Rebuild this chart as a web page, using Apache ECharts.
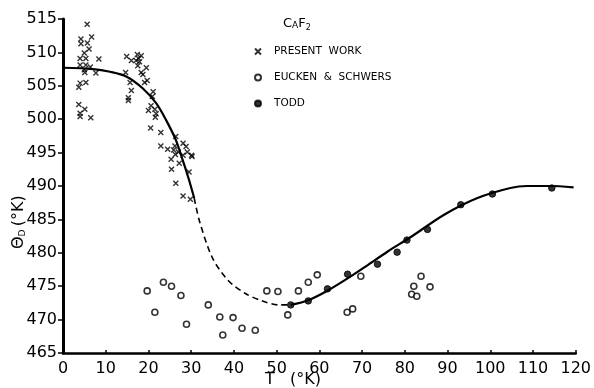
<!DOCTYPE html>
<html>
<head>
<meta charset="utf-8">
<script src="https://cdn.jsdelivr.net/npm/echarts@6/dist/echarts.min.js"></script>
<style>html,body{margin:0;padding:0;background:#fff}#c{width:594px;height:388px}</style>
</head>
<body>
<div id="c"></div>
<script>
// Tick values
const xTicks = [0,10,20,30,40,50,60,70,80,90,100,110,120];
const yTicks = [465,470,475,480,485,490,495,500,505,510,515];

// Present work (crosses) [T, Theta]
const presentWork = [
  [5.65,514.2],[4.2,512.0],[6.7,512.3],[4.2,511.3],[5.7,511.4],[6.1,510.5],[5.0,509.9],[4.0,509.1],
  [5.35,509.1],[8.4,509.0],[4.0,508.1],[5.35,508.1],[6.4,507.8],[5.0,507.4],[5.1,507.0],[7.7,506.9],
  [4.0,505.4],[5.35,505.5],[3.7,504.8],[3.7,502.2],[5.1,501.5],[4.0,500.9],[4.0,500.4],[6.5,500.2],
  [14.9,509.4],[16.0,508.8],[17.4,509.7],[18.3,509.5],[17.7,509.1],[17.1,508.8],[17.9,508.6],[17.5,508.0],
  [19.5,507.7],[18.3,507.0],[18.7,506.7],[14.65,507.0],[15.7,505.5],[19.7,505.8],[19.1,505.5],[16.0,504.3],
  [15.3,503.2],[15.3,502.8],[21.1,504.1],[20.9,503.4],[20.6,502.0],[20.0,501.3],[21.5,501.5],[21.8,500.8],
  [21.6,500.3],[20.5,498.7],
  [22.9,498.0],[22.9,496.0],[24.5,495.5],[25.3,494.0],[25.4,492.5],[26.4,497.4],[26.2,496.0],[25.9,495.4],
  [26.3,494.7],[27.0,495.1],[27.2,493.4],[28.1,496.4],[28.8,495.9],[29.1,495.1],[28.1,494.6],[30.1,494.6],
  [30.2,494.4],[29.5,492.1],[26.4,490.4],[28.1,488.5],[29.8,488.0]
];

// Eucken & Schwers (open circles)
const euckenSchwers = [
  [19.7,474.3],[21.5,471.1],[23.5,475.6],[25.4,475.0],[27.6,473.6],[28.9,469.3],[34.0,472.2],[36.7,470.4],
  [37.4,467.7],[39.8,470.3],[41.9,468.7],[45.0,468.4],[47.7,474.3],[50.3,474.2],[52.6,470.7],[55.1,474.3],
  [57.4,475.6],[59.5,476.7],[66.5,471.1],[67.8,471.6],[69.7,476.5],[81.6,473.8],[82.8,473.5],[82.1,475.0],
  [83.8,476.5],[85.9,474.9]
];

// Todd (filled circles)
const todd = [
  [53.3,472.2],[57.4,472.8],[61.9,474.6],[66.6,476.8],[73.6,478.3],[78.2,480.1],[80.5,481.9],[85.3,483.5],
  [93.1,487.2],[100.5,488.8],[114.4,489.7]
];

// Fitted curve pieces
const fitLow = [[0,507.7],[7,507.5],[11,507.1],[14.8,506.4],[18.7,504.6],[21.8,502.4],[24.1,499.9],
  [26.4,496.9],[28,493.9],[29.5,490.9],[30.7,488.2]];
const fitDashed = [[30.7,488.2],[32,484.6],[35,479.2],[38.6,475.9],[42.7,473.9],[46.6,472.8],[50.5,472.2],[53.3,472.2]];
const fitHigh = [[53.3,472.2],[57.4,472.9],[62.1,474.4],[66.7,476.2],[71.4,478.2],[76,480.2],[81.5,482.4],
  [89.2,485.7],[97,488.2],[104.7,489.7],[108.6,490.0],[114,490.0],[119.5,489.8]];

const names = ['PRESENT  WORK','EUCKEN  &  SCHWERS','TODD'];
const font = 'DejaVu Sans';

const chart = echarts.init(document.getElementById('c'), null, {renderer:'canvas'});
chart.setOption({
  animation:false,
  backgroundColor:'#fff',
  grid:{left:63, top:19, width:516, height:334},
  title:{
    text:'{a|C}{b|A}{a|F}{c|2}', left:278, top:11,
    textStyle:{fontWeight:'normal', rich:{
      a:{fontFamily:font,fontSize:13,fontWeight:'normal',color:'#000'},
      b:{fontFamily:font,fontSize:9,fontWeight:'normal',color:'#000',padding:[3,0,0,0]},
      c:{fontFamily:font,fontSize:8,fontWeight:'normal',color:'#000',padding:[8,0,0,0]}
    }}
  },
  legend:{
    data:names, orient:'vertical', left:249, top:41, itemGap:15, itemWidth:6, itemHeight:6,
    textStyle:{fontFamily:font,fontSize:10.5,color:'#000',padding:[0,0,0,8]}
  },
  xAxis:{
    type:'value', min:0, max:120, interval:10,
    axisLine:{lineStyle:{color:'#000',width:2.5}},
    axisTick:{inside:true,length:3,lineStyle:{color:'#000',width:1.5}},
    axisLabel:{fontFamily:font,fontSize:16,color:'#000',margin:8},
    splitLine:{show:false}
  },
  yAxis:{
    type:'value', min:465, max:515, interval:5,
    axisLine:{show:true,lineStyle:{color:'#000',width:3}},
    axisTick:{show:true,inside:false,length:5,lineStyle:{color:'#000',width:1.5}},
    axisLabel:{fontFamily:font,fontSize:16,color:'#000',margin:6},
    splitLine:{show:false}
  },
  graphic:[
    {type:'text', left:265, top:372, style:{text:'T   (°K)', font:'16px "DejaVu Sans"', fill:'#000'}},
    {type:'text', x:10, y:249, rotation:Math.PI/2,
      style:{text:'{t|Θ}{s|D} {t|(°K)}', fill:'#000',
        rich:{t:{fontFamily:font,fontSize:16,fill:'#000'}, s:{fontFamily:font,fontSize:9,fill:'#000',padding:[8,0,0,0]}}}}
  ],
  series:[
    {type:'line', data:fitLow, smooth:0.3, symbol:'none', lineStyle:{color:'#000',width:2.2}, silent:true, z:1},
    {type:'line', data:fitDashed, smooth:0.3, symbol:'none', lineStyle:{color:'#000',width:1.6,type:[6,4]}, silent:true, z:1},
    {type:'line', data:fitHigh, smooth:0.3, symbol:'none', lineStyle:{color:'#000',width:2.2}, silent:true, z:1},
    {name:names[0], type:'scatter', data:presentWork, symbol:'path://M0,0L10,10M10,0L0,10', symbolSize:5,
      itemStyle:{color:'#000',borderColor:'#000',borderWidth:1.4}, z:3},
    {name:names[1], type:'scatter', data:euckenSchwers, symbol:'circle', symbolSize:6,
      itemStyle:{color:'#fff',borderColor:'#000',borderWidth:1.6}, z:3},
    {name:names[2], type:'scatter', data:todd, symbol:'circle', symbolSize:6.5,
      itemStyle:{color:'#000',borderColor:'#000',borderWidth:1}, z:3}
  ]
});
</script>
</body>
</html>
